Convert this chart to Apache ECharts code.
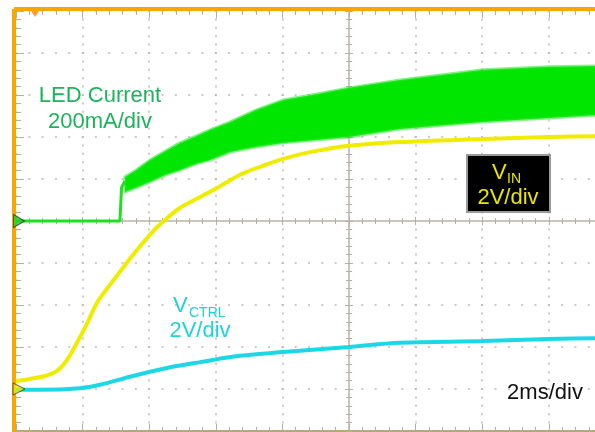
<!DOCTYPE html>
<html>
<head>
<meta charset="utf-8">
<script src="https://cdn.jsdelivr.net/npm/echarts@6/dist/echarts.min.js"></script>
<style>
html,body{margin:0;padding:0;background:#fff;}
#scope{width:595px;height:432px;}
</style>
</head>
<body>
<div id="scope"></div>
<script>
// time in ms (2ms/div), values in screen divisions (0 = bottom, 10 = top)
var xTicks = [0, 2, 4, 6, 8, 10, 12, 14, 16, 18, 20];
var yTicks = [0, 1, 2, 3, 4, 5, 6, 7, 8, 9, 10];

// LED current, before the ripple starts
var ledStepT = [0, 3.12, 3.17, 3.27];
var ledStepV = [5.0, 5.0, 5.8, 5.95];
// LED current ripple band (upper / lower envelope)
var ledT  = [3.27, 3.6, 4.02, 4.5, 4.92, 5.4, 5.83, 6.43, 7.2, 8.02, 9.0, 10.0, 11.53, 13.0, 14.02, 16.0, 17.4, 20];
var ledHi = [6.05, 6.21, 6.45, 6.67, 6.86, 7.02, 7.17, 7.36, 7.64, 7.88, 8.02, 8.17, 8.36, 8.5, 8.6, 8.67, 8.69, 8.74];
var ledLo = [5.69, 5.79, 5.93, 6.1, 6.21, 6.36, 6.45, 6.64, 6.76, 6.86, 6.93, 7.0, 7.19, 7.29, 7.36, 7.45, 7.52, 7.6];

// VIN
var vinT = [0, 0.42, 0.87, 1.23, 1.53, 1.83, 2.13, 2.43, 2.82, 3.12, 3.51, 4.02, 4.41, 4.92, 5.53, 6.13, 6.73, 7.33, 8.02, 8.83, 10.0, 11.53, 14.02, 16.0, 17.39, 20];
var vinV = [1.19, 1.24, 1.31, 1.43, 1.69, 2.1, 2.55, 3.05, 3.48, 3.79, 4.19, 4.67, 4.98, 5.31, 5.57, 5.83, 6.1, 6.29, 6.48, 6.64, 6.79, 6.88, 6.95, 7.0, 7.02, 7.07];

// VCTRL
var ctrlT = [0, 0.72, 1.92, 2.52, 3.51, 4.53, 5.53, 6.73, 8.02, 10.0, 11.53, 14.02, 16.0, 17.39, 20];
var ctrlV = [0.98, 0.98, 1.02, 1.1, 1.31, 1.5, 1.64, 1.79, 1.88, 2.0, 2.1, 2.14, 2.19, 2.21, 2.26];

// channel ground markers and trigger point
var gndLed = [0, 5.0];
var gndVin = [0, 1.0];
var trigPos = [0.57, 10];

function pairs(xs, ys){
	var out = [];
	for(var i=0;i<xs.length;i++){
		out.push([xs[i], ys[i]]);
	}
	return out;
}

var myChart = echarts.init(document.getElementById('scope'));

var gridCol = '#bdb8b0';
var tickCol = '#b4aea4';
var orange = '#f5a800';
var fontFam = '"Liberation Sans", Arial, sans-serif';

function baseX(extra){
	var a = {
		type:'value', min:xTicks[0], max:xTicks[xTicks.length-1], interval:2,
		axisLabel:{show:false}, splitLine:{show:false},
		axisLine:{show:false, onZero:false},
		axisTick:{show:false}, minorTick:{show:false}
	};
	for(var k in extra){ a[k] = extra[k]; }
	return a;
}
function baseY(extra){
	var a = {
		type:'value', min:yTicks[0], max:yTicks[yTicks.length-1], interval:1,
		axisLabel:{show:false}, splitLine:{show:false},
		axisLine:{show:false, onZero:false},
		axisTick:{show:false}, minorTick:{show:false}
	};
	for(var k in extra){ a[k] = extra[k]; }
	return a;
}

var option = {
	backgroundColor:'#fff',
	animation:false,
	// the scope screen is 10 divs wide, only part of it is in the picture
	grid:{left:16, top:11, width:666, height:420, containLabel:false, outerBoundsMode:'none'},
	xAxis:[
		// main: bottom edge + dotted grid
		baseX({position:'bottom',
			axisLine:{show:true, onZero:false, lineStyle:{color:'#b8a57a', width:2}},
			axisTick:{show:true, inside:true, length:7, lineStyle:{color:tickCol}},
			minorTick:{show:true, splitNumber:5, length:4, lineStyle:{color:tickCol}},
			splitLine:{show:true, lineStyle:{color:gridCol, width:1.5, type:[2, 6.4], dashOffset:1}}
		}),
		// top edge ticks
		baseX({position:'top',
			axisTick:{show:true, inside:true, length:7, lineStyle:{color:tickCol}},
			minorTick:{show:true, splitNumber:5, length:4, lineStyle:{color:tickCol}}
		}),
		// orange top frame
		baseX({position:'top', offset:2,
			axisLine:{show:true, onZero:false, lineStyle:{color:orange, width:4, cap:'square'}}
		}),
		// centre horizontal axis, ticks up
		baseX({position:'bottom', offset:-210,
			axisLine:{show:true, onZero:false, lineStyle:{color:'#cbc5bb', width:2}},
			axisTick:{show:true, inside:true, length:4, lineStyle:{color:tickCol}},
			minorTick:{show:true, splitNumber:5, length:3, lineStyle:{color:tickCol}}
		}),
		// centre horizontal axis, ticks down
		baseX({position:'bottom', offset:-210,
			axisTick:{show:true, inside:false, length:4, lineStyle:{color:tickCol}},
			minorTick:{show:true, splitNumber:5, length:3, lineStyle:{color:tickCol}}
		})
	],
	yAxis:[
		// main: left edge ticks + dotted grid
		baseY({position:'left',
			axisTick:{show:true, inside:true, length:8, lineStyle:{color:tickCol}},
			minorTick:{show:true, splitNumber:5, length:5, lineStyle:{color:tickCol}},
			splitLine:{show:true, lineStyle:{color:gridCol, width:1.5, type:[2, 11.32], dashOffset:1}}
		}),
		// orange left frame
		baseY({position:'left', offset:2,
			axisLine:{show:true, onZero:false, lineStyle:{color:orange, width:4, cap:'square'}}
		}),
		// centre vertical axis, ticks right
		baseY({position:'left', offset:-333,
			axisLine:{show:true, onZero:false, lineStyle:{color:'#cbc5bb', width:2}},
			axisTick:{show:true, inside:true, length:4, lineStyle:{color:tickCol}},
			minorTick:{show:true, splitNumber:5, length:3, lineStyle:{color:tickCol}}
		}),
		// centre vertical axis, ticks left
		baseY({position:'left', offset:-333,
			axisTick:{show:true, inside:false, length:4, lineStyle:{color:tickCol}},
			minorTick:{show:true, splitNumber:5, length:3, lineStyle:{color:tickCol}}
		})
	],
	series:[
		{
			name:'LED Current ripple',
			type:'custom',
			xAxisIndex:0, yAxisIndex:0,
			data:pairs(ledT, ledHi),
			renderItem:function(params, api){
				if(params.dataIndex !== 0){ return; }
				var pts = [];
				for(var i=0;i<ledT.length;i++){
					pts.push(api.coord([ledT[i], ledHi[i]]));
				}
				for(var j=ledT.length-1;j>=0;j--){
					pts.push(api.coord([ledT[j], ledLo[j]]));
				}
				return {
					type:'polygon',
					shape:{points:pts},
					style:{fill:'#00e600', stroke:'rgba(40,230,40,0.55)', lineWidth:3, lineJoin:'round'}
				};
			},
			z:3
		},
		{
			name:'LED Current',
			type:'line',
			data:pairs(ledStepT, ledStepV),
			symbol:'none',
			lineStyle:{color:'#1ee01e', width:3},
			z:3
		},
		{
			name:'VIN',
			type:'line',
			data:pairs(vinT, vinV),
			symbol:'none', smooth:0.35,
			lineStyle:{color:'#f0ec00', width:4},
			z:4
		},
		{
			name:'VCTRL',
			type:'line',
			data:pairs(ctrlT, ctrlV),
			symbol:'none', smooth:0.35,
			lineStyle:{color:'#1cd8e6', width:4},
			z:4
		},
		{
			name:'markers',
			type:'scatter',
			clip:false,
			z:6,
			data:[
				{value:gndLed, symbol:'triangle', symbolRotate:-90, symbolSize:[13,11], symbolOffset:[3,0],
					itemStyle:{color:'#22d022', borderColor:'#2a3a2a', borderWidth:1}},
				{value:gndVin, symbol:'triangle', symbolRotate:-90, symbolSize:[12,12], symbolOffset:[3,0],
					itemStyle:{color:'#f0e600', borderColor:'#3a3a20', borderWidth:1}},
				{value:trigPos, symbol:'triangle', symbolRotate:180, symbolSize:[8,6], symbolOffset:[0,3],
					itemStyle:{color:'#f08a00'}}
			]
		}
	],
	graphic:[
		{type:'text', x:100, y:96, z:10, style:{text:'LED Current', font:'22px '+fontFam, fill:'#1bb35c', textAlign:'center', textVerticalAlign:'middle'}},
		{type:'text', x:100, y:122, z:10, style:{text:'200mA/div', font:'22px '+fontFam, fill:'#1bb35c', textAlign:'center', textVerticalAlign:'middle'}},

		{type:'text', x:173, y:306, z:10, style:{text:'V', font:'22px '+fontFam, fill:'#20d2d6', textAlign:'left', textVerticalAlign:'middle'}},
		{type:'text', x:189, y:313, z:10, style:{text:'CTRL', font:'14px '+fontFam, fill:'#20d2d6', textAlign:'left', textVerticalAlign:'middle'}},
		{type:'text', x:200, y:331, z:10, style:{text:'2V/div', font:'22px '+fontFam, fill:'#20d2d6', textAlign:'center', textVerticalAlign:'middle'}},

		{type:'rect', z:10, shape:{x:467, y:155, width:83, height:57}, style:{fill:'#000', stroke:'#9a9a9a', lineWidth:2}},
		{type:'text', x:492, y:173, z:11, style:{text:'V', font:'22px '+fontFam, fill:'#e8e600', textAlign:'left', textVerticalAlign:'middle'}},
		{type:'text', x:507, y:179, z:11, style:{text:'IN', font:'14px '+fontFam, fill:'#e8e600', textAlign:'left', textVerticalAlign:'middle'}},
		{type:'text', x:508, y:198, z:11, style:{text:'2V/div', font:'22px '+fontFam, fill:'#e8e600', textAlign:'center', textVerticalAlign:'middle'}},

		{type:'text', x:545, y:393, z:10, style:{text:'2ms/div', font:'22px '+fontFam, fill:'#111', textAlign:'center', textVerticalAlign:'middle'}}
	]
};
myChart.setOption(option, true);
</script>
</body>
</html>
